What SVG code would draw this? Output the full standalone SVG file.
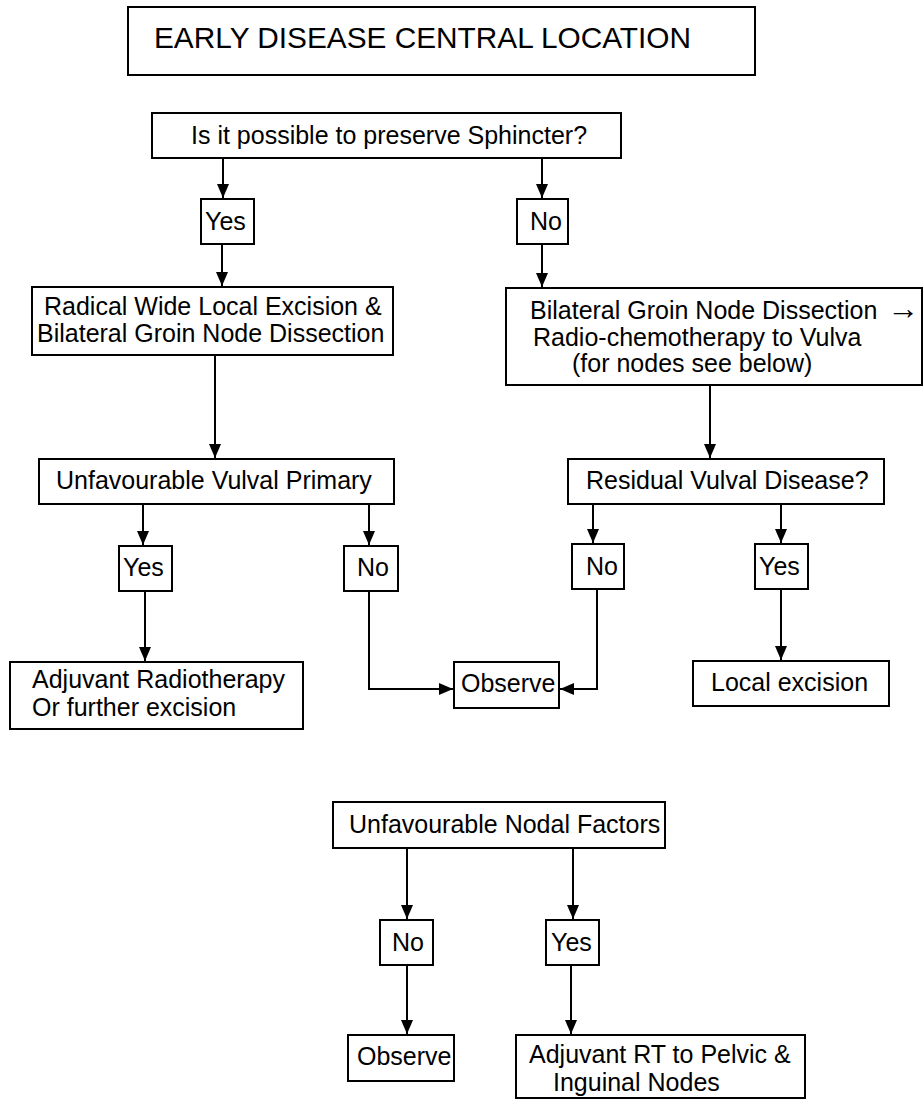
<svg xmlns="http://www.w3.org/2000/svg" width="924" height="1101" viewBox="0 0 924 1101">
  <style>
    .box { fill: #ffffff; stroke: #000000; stroke-width: 2; }
    .lbl { font-family: "Liberation Sans", Arial, sans-serif; font-size: 25px; fill: #000000; }
    .ttl { font-family: "Liberation Sans", Arial, sans-serif; font-size: 29.8px; fill: #000000; }
    .wire { fill: none; stroke: #000000; stroke-width: 2; marker-end: url(#head); }
  </style>
  <defs>
    <marker id="head" markerUnits="userSpaceOnUse" markerWidth="14" markerHeight="12" refX="14" refY="6" orient="auto">
      <path d="M0,0 L14,6 L0,12 Z" fill="#000000"/>
    </marker>
  </defs>
  <rect width="924" height="1101" fill="#ffffff"/>

  <!-- connectors -->
  <g id="connectors">
    <path class="wire" d="M223,158 V198"/>
    <path class="wire" d="M542,158 V198"/>
    <path class="wire" d="M222,244 V286"/>
    <path class="wire" d="M542,244 V287"/>
    <path class="wire" d="M215,355 V458"/>
    <path class="wire" d="M710,385 V458"/>
    <path class="wire" d="M143,504 V545"/>
    <path class="wire" d="M369,504 V545"/>
    <path class="wire" d="M593,504 V543"/>
    <path class="wire" d="M781,504 V543"/>
    <path class="wire" d="M145,591 V661"/>
    <path class="wire" d="M369,591 V689 H453"/>
    <path class="wire" d="M597,589 V689 H560"/>
    <path class="wire" d="M781,589 V660"/>
    <path class="wire" d="M407,848 V919"/>
    <path class="wire" d="M573,848 V919"/>
    <path class="wire" d="M407,965 V1034"/>
    <path class="wire" d="M571,965 V1034"/>
  </g>

  <g id="title">
    <rect class="box" x="128" y="7" width="627" height="68"/>
    <text class="ttl" x="154" y="48">EARLY DISEASE CENTRAL LOCATION</text>
  </g>

  <g id="sphincter">
    <rect class="box" x="152" y="113" width="469" height="45"/>
    <text class="lbl" x="191" y="144">Is it possible to preserve Sphincter?</text>
  </g>

  <g id="yes-sphincter">
    <rect class="box" x="201" y="199" width="53" height="45"/>
    <text class="lbl" x="205" y="230">Yes</text>
  </g>

  <g id="no-sphincter">
    <rect class="box" x="517" y="199" width="51" height="45"/>
    <text class="lbl" x="530" y="230">No</text>
  </g>

  <g id="radical-excision">
    <rect class="box" x="32" y="287" width="361" height="68"/>
    <text class="lbl" x="44" y="315">Radical Wide Local Excision &amp;</text>
    <text class="lbl" x="37" y="342">Bilateral Groin Node Dissection</text>
  </g>

  <g id="groin-dissection">
    <rect class="box" x="506" y="288" width="416" height="97"/>
    <text class="lbl" x="530" y="319">Bilateral Groin Node Dissection <tspan x="887" font-size="32">→</tspan></text>
    <text class="lbl" x="533" y="346">Radio-chemotherapy to Vulva</text>
    <text class="lbl" x="572" y="372">(for nodes see below)</text>
  </g>

  <g id="vulval-primary">
    <rect class="box" x="39" y="459" width="355" height="45"/>
    <text class="lbl" x="56" y="489">Unfavourable Vulval Primary</text>
  </g>

  <g id="residual-disease">
    <rect class="box" x="568" y="459" width="316" height="45"/>
    <text class="lbl" x="586" y="489">Residual Vulval Disease?</text>
  </g>

  <g id="yes-primary">
    <rect class="box" x="119" y="546" width="53" height="45"/>
    <text class="lbl" x="123" y="576">Yes</text>
  </g>

  <g id="no-primary">
    <rect class="box" x="344" y="546" width="54" height="45"/>
    <text class="lbl" x="357" y="576">No</text>
  </g>

  <g id="no-residual">
    <rect class="box" x="572" y="544" width="52" height="45"/>
    <text class="lbl" x="586" y="575">No</text>
  </g>

  <g id="yes-residual">
    <rect class="box" x="755" y="544" width="53" height="45"/>
    <text class="lbl" x="759" y="575">Yes</text>
  </g>

  <g id="adjuvant-radiotherapy">
    <rect class="box" x="10" y="662" width="293" height="67"/>
    <text class="lbl" x="32" y="688">Adjuvant Radiotherapy</text>
    <text class="lbl" x="32" y="716">Or further excision</text>
  </g>

  <g id="observe-primary">
    <rect class="box" x="454" y="662" width="105" height="46"/>
    <text class="lbl" x="461" y="692">Observe</text>
  </g>

  <g id="local-excision">
    <rect class="box" x="693" y="661" width="196" height="45"/>
    <text class="lbl" x="711" y="691">Local excision</text>
  </g>

  <g id="nodal-factors">
    <rect class="box" x="333" y="802" width="332" height="46"/>
    <text class="lbl" x="349" y="833">Unfavourable Nodal Factors</text>
  </g>

  <g id="no-nodal">
    <rect class="box" x="380" y="920" width="53" height="45"/>
    <text class="lbl" x="392" y="951">No</text>
  </g>

  <g id="yes-nodal">
    <rect class="box" x="546" y="920" width="53" height="45"/>
    <text class="lbl" x="551" y="951">Yes</text>
  </g>

  <g id="observe-nodal">
    <rect class="box" x="348" y="1035" width="106" height="46"/>
    <text class="lbl" x="357" y="1065">Observe</text>
  </g>

  <g id="adjuvant-rt-nodes">
    <rect class="box" x="516" y="1035" width="289" height="63"/>
    <text class="lbl" x="529" y="1063">Adjuvant RT to Pelvic &amp;</text>
    <text class="lbl" x="553" y="1091">Inguinal Nodes</text>
  </g>
</svg>
